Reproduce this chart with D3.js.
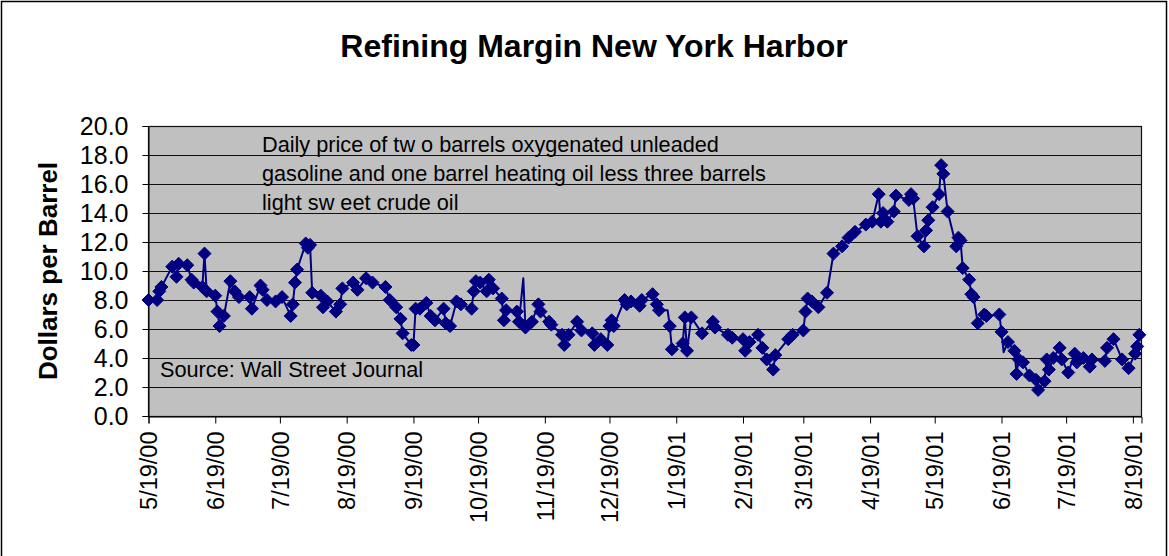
<!DOCTYPE html>
<html>
<head>
<meta charset="utf-8">
<script src="https://cdn.jsdelivr.net/npm/d3@7"></script>
<style>
  html, body { margin: 0; padding: 0; background: #fff; }
  svg { display: block; }
  text { font-family: "Liberation Sans", Arial, Helvetica, sans-serif; fill: #000; }
</style>
</head>
<body>
<svg id="chart" width="1169" height="556"></svg>
<script>
// ---- data ----
const dates = [
"2000-05-19","2000-05-23","2000-05-24","2000-05-25","2000-05-30","2000-06-01","2000-06-02","2000-06-06","2000-06-08","2000-06-09",
"2000-06-13","2000-06-14","2000-06-15","2000-06-19","2000-06-20","2000-06-21","2000-06-23","2000-06-26","2000-06-28","2000-06-30",
"2000-07-05","2000-07-06","2000-07-10","2000-07-11","2000-07-13","2000-07-17","2000-07-20","2000-07-24","2000-07-25","2000-07-26",
"2000-07-27","2000-07-31","2000-08-01","2000-08-02","2000-08-03","2000-08-07","2000-08-08","2000-08-10","2000-08-14","2000-08-16",
"2000-08-17","2000-08-22","2000-08-24","2000-08-28","2000-08-31","2000-09-06","2000-09-08","2000-09-11","2000-09-13","2000-09-14",
"2000-09-18","2000-09-19","2000-09-20","2000-09-22","2000-09-25","2000-09-27","2000-09-29","2000-10-03","2000-10-04","2000-10-06",
"2000-10-09","2000-10-11","2000-10-16","2000-10-17","2000-10-18","2000-10-20","2000-10-23","2000-10-24","2000-10-26","2000-10-30",
"2000-10-31","2000-11-01","2000-11-06","2000-11-07","2000-11-09","2000-11-10","2000-11-13","2000-11-16","2000-11-17","2000-11-21",
"2000-11-22","2000-11-27","2000-11-28","2000-11-30","2000-12-04","2000-12-06","2000-12-11","2000-12-12","2000-12-15","2000-12-18",
"2000-12-19","2000-12-20","2000-12-21","2000-12-26","2000-12-27","2000-12-29","2001-01-02","2001-01-03","2001-01-08","2001-01-10",
"2001-01-11","2001-01-15","2001-01-16","2001-01-17","2001-01-22","2001-01-23","2001-01-24","2001-01-26","2001-01-31","2001-02-05",
"2001-02-06","2001-02-12","2001-02-14","2001-02-19","2001-02-20","2001-02-22","2001-02-26","2001-02-28","2001-03-02","2001-03-05",
"2001-03-06","2001-03-12","2001-03-14","2001-03-19","2001-03-20","2001-03-21","2001-03-23","2001-03-26","2001-03-30","2001-04-02",
"2001-04-06","2001-04-09","2001-04-12","2001-04-17","2001-04-20","2001-04-23","2001-04-24","2001-04-25","2001-04-27","2001-04-30",
"2001-05-01","2001-05-07","2001-05-08","2001-05-09","2001-05-11","2001-05-14","2001-05-15","2001-05-16","2001-05-18","2001-05-21",
"2001-05-22","2001-05-23","2001-05-25","2001-05-29","2001-05-30","2001-05-31","2001-06-01","2001-06-04","2001-06-05","2001-06-06",
"2001-06-08","2001-06-11","2001-06-12","2001-06-18","2001-06-19","2001-06-20","2001-06-22","2001-06-25","2001-06-26","2001-06-27",
"2001-06-29","2001-07-02","2001-07-05","2001-07-06","2001-07-09","2001-07-10","2001-07-11","2001-07-13","2001-07-16","2001-07-17",
"2001-07-20","2001-07-23","2001-07-24","2001-07-27","2001-07-30","2001-07-31","2001-08-06","2001-08-07","2001-08-10","2001-08-14",
"2001-08-17","2001-08-20","2001-08-21","2001-08-22"
];
const margins = [
8.0,8.0,8.6,8.9,10.3,9.6,10.5,10.4,9.4,9.2,
8.9,11.2,8.6,8.3,7.2,6.2,6.9,9.3,8.6,8.2,
8.2,7.4,9.0,8.7,8.0,7.9,8.2,6.9,7.7,9.2,
10.1,11.9,11.6,11.8,8.5,8.3,7.5,7.9,7.2,7.7,
8.8,9.2,8.7,9.5,9.2,8.9,8.0,7.5,6.7,5.7,
4.9,4.9,7.4,7.4,7.8,6.9,6.6,7.4,6.4,6.2,
7.9,7.7,7.4,8.6,9.3,9.2,8.6,9.4,8.8,8.1,
6.6,7.3,7.2,6.5,9.5,6.1,6.5,7.7,7.2,6.5,
6.3,5.6,4.9,5.6,6.5,5.9,5.7,4.9,5.3,4.9,
6.2,6.6,6.2,8.0,7.7,7.9,7.6,8.0,8.4,7.7,
7.3,7.3,6.2,4.6,5.0,6.8,4.5,6.8,5.7,6.5,
6.1,5.6,5.4,5.3,4.5,5.1,5.6,4.7,3.9,3.2,
4.2,5.3,5.6,5.9,7.2,8.1,7.9,7.5,8.5,11.2,
11.7,12.3,12.7,13.2,13.4,15.3,13.4,14.0,13.4,14.1,
15.2,14.9,15.3,15.0,12.4,11.7,12.8,13.5,14.4,15.3,
17.3,16.7,14.1,11.7,12.3,12.1,10.2,9.4,8.4,8.2,
6.4,7.0,6.9,7.0,5.8,4.4,5.1,4.5,2.9,3.9,
3.7,2.8,2.5,1.8,2.4,3.9,3.2,4.0,4.7,3.9,
3.0,4.3,3.7,4.0,3.4,3.9,3.8,4.7,5.3,3.9,
3.3,4.3,4.8,5.6
];
// points drawn by the line only (no visible marker in the reference)
const noMarkerDates = ["2000-11-09","2001-01-15","2001-06-20"];
const xTickDates = ["2000-05-19","2000-06-19","2000-07-19","2000-08-19","2000-09-19","2000-10-19","2000-11-19","2000-12-19",
                    "2001-01-19","2001-02-19","2001-03-19","2001-04-19","2001-05-19","2001-06-19","2001-07-19","2001-08-19"];
const yTicks = [0,2,4,6,8,10,12,14,16,18,20];
const xDomain = ["2000-05-19","2001-08-23"];
const titleText = "Refining Margin New York Harbor";
const yTitle = "Dollars per Barrel";
const noteLines = ["Daily price of tw o barrels oxygenated unleaded",
                   "gasoline and one barrel heating oil less three barrels",
                   "light sw eet crude oil"];
const sourceText = "Source: Wall Street Journal";

// ---- drawing ----
const parse = d3.timeParse("%Y-%m-%d");
const fmt = d3.timeFormat("%-m/%-d/%y");
const data = dates.map((d, i) => ({date: parse(d), value: margins[i], marker: !noMarkerDates.includes(d)}));

const svg = d3.select("#chart");
const W = 1169, H = 556;
const plot = {left: 148, right: 1141, top: 126, bottom: 416};

svg.append("rect").attr("x", 1.5).attr("y", 1.5).attr("width", 1165).attr("height", H + 10)
  .attr("fill", "#fff").attr("stroke", "#000").attr("stroke-width", 1.5);

const x = d3.scaleTime().domain(xDomain.map(parse)).range([plot.left + 0.5, plot.right + 0.5]);
const y = d3.scaleLinear().domain([0, 20]).range([plot.bottom, plot.top]);

// plot area
svg.append("rect").attr("x", plot.left).attr("y", plot.top)
  .attr("width", plot.right - plot.left).attr("height", plot.bottom - plot.top)
  .attr("fill", "#c0c0c0");

// gridlines
svg.append("g").selectAll("line").data(yTicks.filter(v => v > 0)).join("line")
  .attr("x1", plot.left).attr("x2", plot.right)
  .attr("y1", d => Math.round(y(d)) + 0.5).attr("y2", d => Math.round(y(d)) + 0.5)
  .attr("stroke", "#111").attr("stroke-width", 1);

svg.append("rect").attr("x", plot.left + 0.5).attr("y", plot.top + 0.5)
  .attr("width", plot.right - plot.left).attr("height", plot.bottom - plot.top)
  .attr("fill", "none").attr("stroke", "#111").attr("stroke-width", 1.2);

// y axis
const yAxis = svg.append("g").attr("transform", `translate(${plot.left + 0.5},0)`)
  .call(d3.axisLeft(y).tickValues(yTicks).tickFormat(d3.format(".1f")).tickSize(6).tickPadding(14));
yAxis.select(".domain").attr("stroke", "#000");
yAxis.selectAll(".tick line").attr("stroke", "#000");
yAxis.selectAll(".tick text").attr("font-size", 25).attr("font-family", "Liberation Sans, Arial, sans-serif").attr("fill", "#000");

// x axis
const xAxis = svg.append("g").attr("transform", `translate(0,${plot.bottom + 0.5})`)
  .call(d3.axisBottom(x).tickValues(xTickDates.map(parse)).tickFormat(fmt).tickSize(7));
xAxis.select(".domain").attr("stroke", "#000");
xAxis.selectAll(".tick line").attr("stroke", "#000");
xAxis.selectAll(".tick text")
  .attr("font-size", 23.5).attr("font-family", "Liberation Sans, Arial, sans-serif").attr("fill", "#000")
  .attr("text-anchor", "end").attr("dy", "0.35em")
  .attr("transform", "translate(0,15) rotate(-90)")
  .attr("x", 0).attr("y", 0);

// series line + markers
const line = d3.line().x(d => x(d.date)).y(d => y(d.value));
svg.append("path").datum(data).attr("d", line)
  .attr("fill", "none").attr("stroke", "#000080").attr("stroke-width", 2).attr("stroke-linejoin", "round");

const r = 6.5;
svg.append("g").selectAll("path").data(data.filter(d => d.marker)).join("path")
  .attr("d", `M0,${-r}L${r},0L0,${r}L${-r},0Z`)
  .attr("transform", d => `translate(${x(d.date)},${y(d.value)})`)
  .attr("fill", "#000080").attr("stroke", "#000080").attr("stroke-width", 1);

// titles and notes
svg.append("text").attr("x", 594).attr("y", 57).attr("text-anchor", "middle")
  .attr("font-size", 32).attr("font-weight", "bold").text(titleText);

svg.append("text").attr("transform", `translate(57,${(plot.top + plot.bottom) / 2}) rotate(-90)`)
  .attr("text-anchor", "middle").attr("font-size", 26).attr("font-weight", "bold").text(yTitle);

svg.append("g").selectAll("text").data(noteLines).join("text")
  .attr("x", 262).attr("y", (d, i) => 151.5 + i * 29)
  .attr("font-size", 21.7).text(d => d);

svg.append("text").attr("x", 160).attr("y", 377).attr("font-size", 21.7).text(sourceText);
</script>
</body>
</html>
